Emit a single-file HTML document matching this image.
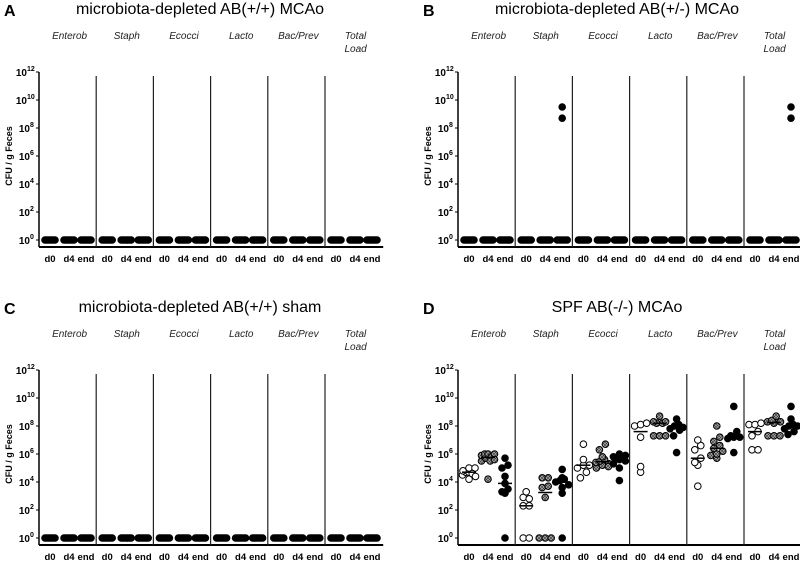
<!DOCTYPE html>
<html><head><meta charset="utf-8"><style>
body{margin:0;background:#fff}
svg{display:block;font-family:"Liberation Sans",sans-serif}
</style></head><body>
<svg id="chart" width="800" height="561" viewBox="0 0 800 561"></svg>
<script>
const categories=["Enterob","Staph","Ecocci","Lacto","Bac/Prev","Total Load"];
const timepoints=["d0","d4","end"];
const panelTitles=["microbiota-depleted AB(+/+) MCAo","microbiota-depleted AB(+/-) MCAo","microbiota-depleted AB(+/+) sham","SPF AB(-/-) MCAo"];
const panelLetters=["A","B","C","D"];
const yTicks=[0,2,4,6,8,10,12];
const zeros8=[0,0,0,0,0,0,0,0];
const panelA=[[zeros8,zeros8,zeros8],[zeros8,zeros8,zeros8],[zeros8,zeros8,zeros8],[zeros8,zeros8,zeros8],[zeros8,zeros8,zeros8],[zeros8,zeros8,zeros8]];
const panelB=[[zeros8,zeros8,zeros8],[zeros8,zeros8,[9.5,8.7,0,0,0,0,0,0]],[zeros8,zeros8,zeros8],[zeros8,zeros8,zeros8],[zeros8,zeros8,zeros8],[zeros8,zeros8,[9.5,8.7,0,0,0,0,0,0]]];
const panelC=panelA;
const dEnterob=[[4.2,4.5,4.7,4.7,4.8,5,5,4.6,4.4],[4.2,5.5,5.7,5.9,6,6,5.8,5.5,6,5.6],[0,3.2,3.3,3.9,4.4,5,5.2,5.7,3.5]];
const dStaph=[[0,0,2.3,2.3,2.9,3.3,2.8],[0,0,0,2.9,3.6,4.3,4.3,3.7],[0,3.2,3.6,4,4.1,4.2,4.3,4.9,3.8]];
const dEcocci=[[4.3,4.7,5,5.2,5.2,5.6,6.7],[5,5.2,5.4,5.5,5.6,5.8,6.3,6.7,5.3,5.1],[4.1,5,5.3,5.6,5.8,6,5.9,5.5]];
const dLacto=[[4.7,5.1,7.2,8,8.1,8.2],[7.3,7.3,7.3,8.2,8.3,8.2,8.7,8.3],[6.1,7.3,7.7,7.8,8,8.1,8.5,7.9]];
const dBacPrev=[[3.7,5.2,5.4,5.7,6.3,6.6,7],[5.7,5.9,6,6.2,6.4,6.6,6.9,7.2,8],[6.1,7.1,7.2,7.3,7.6,9.4,7.2]];
const dTotal=[[6.3,6.3,7.3,7.6,8.1,8.1,8.2],[7.3,7.3,7.3,8.2,8.3,8.4,8.7,8.3],[7.4,7.6,7.8,8,8.1,8.5,9.4,8]];
const panelD=[dEnterob,dStaph,dEcocci,dLacto,dBacPrev,dTotal];
const panelData=[panelA,panelB,panelC,panelD];
const medianShown=[false,false,false,true];

const NS="http://www.w3.org/2000/svg";
const svg=document.getElementById('chart');
function mk(tag,attrs,parent,text){const e=document.createElementNS(NS,tag);for(const k in attrs)e.setAttribute(k,attrs[k]);if(text!==undefined)e.textContent=text;parent.appendChild(e);return e;}
const offsets=[[0,0],[419,0],[0,298],[419,298]];
const axX=39, y0=240, y12=72, gW=57.2, tpX=[11,30,47];
function yS(v){return y0-(v/12)*(y0-y12);}
function gX(i){return axX+i*gW;}
const defs=mk('defs',{},svg);
const pat=mk('pattern',{id:'hatch',width:3,height:3,patternUnits:'userSpaceOnUse'},defs);
mk('rect',{width:3,height:3,fill:'#aaa'},pat);
mk('path',{d:'M0,0L3,3M3,0L0,3',stroke:'#333','stroke-width':0.6},pat);

panelData.forEach((pd,p)=>{
  const [ox,oy]=offsets[p];
  const g=mk('g',{transform:`translate(${ox},${oy})`},svg);
  
  
  const L=mk('text',{x:4,y:16,'font-size':16,'font-weight':'bold'},g,panelLetters[p]);
  
  
  const T=mk('text',{x:p%2?198:200,y:14,'font-size':16,'text-anchor':'middle'},g,panelTitles[p]);
  
  
  const ya=mk('line',{x1:axX,y1:y12,x2:axX,y2:247,stroke:'#000','stroke-width':1.5},g);
  
  
  yTicks.forEach(t=>{
    const y=yS(t);
    mk('line',{x1:axX-3,y1:y,x2:axX,y2:y,stroke:'#000','stroke-width':1},g);
    const tx=mk('text',{x:axX-5-(t>=10?7:4),y:y+4,'font-size':10,'font-weight':'bold','text-anchor':'end'},g,'10');
    
    
    mk('text',{x:axX-5-(t>=10?7:4),y:y-1,'font-size':7,'font-weight':'bold','text-anchor':'start'},g,String(t));
  });
  const yt=mk('text',{x:0,y:0,'font-size':9,'font-weight':'bold','text-anchor':'middle',transform:'translate(12,156) rotate(-90)'},g,'CFU / g Feces');
  
  
  const xa=mk('line',{x1:axX,y1:247,x2:axX+6*gW+1,y2:247,stroke:'#000','stroke-width':2},g);
  
  
  categories.forEach((c,ci)=>{
    const gx=gX(ci);
    if(ci>0){const d=mk('line',{x1:gx,y1:76,x2:gx,y2:247,stroke:'#222','stroke-width':1.2},g);
      
      }
    const words=c==="Total Load"?["Total","Load"]:[c];
    words.forEach((w,wi)=>{
      const ct=mk('text',{x:gx+gW/2+2,y:39+wi*13,'font-size':10,'font-style':'italic','text-anchor':'middle',fill:'#222'},g,w);
      
      
    });
    timepoints.forEach((tp,ti)=>{
      const cx=gx+tpX[ti];
      const xl=mk('text',{x:cx,y:262,'font-size':9.5,'font-weight':'bold','text-anchor':'middle'},g,tp);
      
      
      const vals=pd[ci][ti];
      const bins={};
      vals.forEach((v,vi)=>{const b=Math.round(v*2);(bins[b]=bins[b]||[]).push(vi);});
      let fill=ti===0?'#fff':(ti===1?'url(#hatch)':'#000');
      vals.forEach((v,vi)=>{
        const b=bins[Math.round(v*2)];const n=b.length;const k=b.indexOf(vi);
        const sp=n>1?Math.min(6,(v===0&&p<3?10:13)/(n-1)):0;
        const x=cx+(k-(n-1)/2)*sp;
        const f=(p<3&&v===0)?'#000':fill;
        const c2=mk('circle',{cx:x,cy:yS(v),r:3.3,fill:f,stroke:'#000','stroke-width':1},g);
        
        
      });
      if(medianShown[p]){
        const s=[...vals].sort((a,b)=>a-b);const m=s.length%2?s[(s.length-1)/2]:(s[s.length/2-1]+s[s.length/2])/2;
        const ml=mk('line',{x1:cx-7,y1:yS(m),x2:cx+7,y2:yS(m),stroke:'#000','stroke-width':1.5},g);
        
        
      }
    });
  });
});
</script>
</body></html>
